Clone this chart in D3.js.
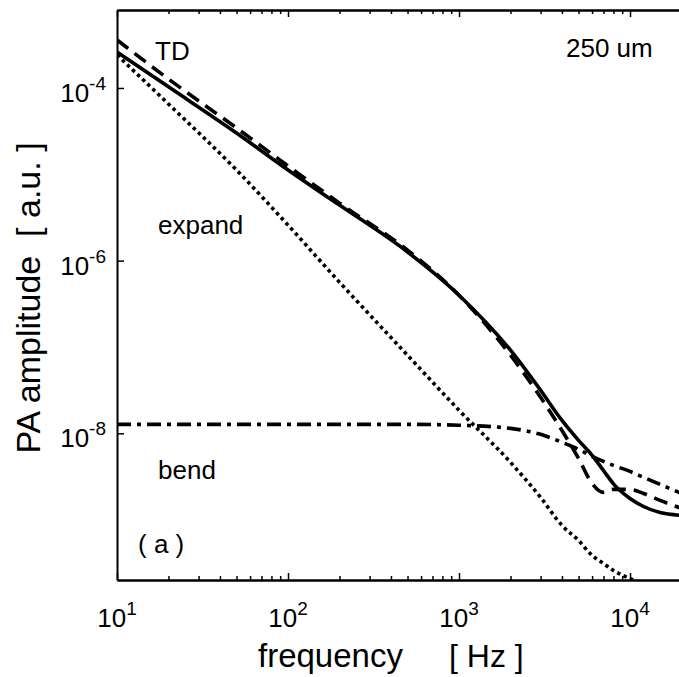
<!DOCTYPE html>
<html>
<head>
<meta charset="utf-8">
<script src="https://cdn.jsdelivr.net/npm/d3@7"></script>
<style>
  body { margin: 0; background: #fff; }
  text { font-family: "Liberation Sans", Arial, sans-serif; fill: #000; }
</style>
</head>
<body>
<div id="chart"></div>
<script>
    // data
    var freq   = [10, 20, 50, 100, 200, 500, 1000, 2000, 3000, 4000, 5000, 6000, 7000, 8000, 10000, 12000, 15000, 20000];
    var total  = [2.61e-4, 1.03e-4, 3.01e-5, 1.12e-5, 4.40e-6, 1.26e-6, 3.98e-7, 9.17e-8, 3.15e-8, 1.41e-8, 8.29e-9, 5.56e-9, 3.70e-9, 2.60e-9, 1.76e-9, 1.42e-9, 1.21e-9, 1.12e-9];
    var td     = [3.60e-4, 1.27e-4, 3.44e-5, 1.25e-5, 4.64e-6, 1.32e-6, 3.98e-7, 8.02e-8, 2.61e-8, 1.08e-8, 5.13e-9, 2.63e-9, 2.07e-9, 2.24e-9, 2.24e-9, 2.01e-9, 1.67e-9, 1.35e-9];
    var bend   = [1.27e-8, 1.27e-8, 1.27e-8, 1.27e-8, 1.27e-8, 1.27e-8, 1.24e-8, 1.14e-8, 9.73e-9, 7.86e-9, 6.52e-9, 5.41e-9, 4.73e-9, 4.25e-9, 3.62e-9, 3.09e-9, 2.56e-9, 2.01e-9];
    var expand = [2.41e-4, 6.52e-5, 1.12e-5, 2.58e-6, 5.63e-7, 8.02e-8, 1.85e-8, 4.61e-9, 1.81e-9, 8.57e-10, 5.74e-10, 3.85e-10, 3.11e-10, 2.58e-10, 2.08e-10, 1.80e-10, 1.60e-10, 1.40e-10];

    var xTicks = [10, 100, 1000, 10000];
    var xLabels = ["1", "2", "3", "4"];
    var yTicks = [1e-4, 1e-6, 1e-8];
    var yLabels = ["-4", "-6", "-8"];

    // dimensions & margins
    var margin = { top: 10, left: 117 },
        width = 564.5,
        height = 570;

    var svg = d3.select("#chart")
        .append("svg")
        .attr("width", 679)
        .attr("height", 677)
        .append("g")
        .attr("transform", "translate(" + margin.left + "," + margin.top + ")");

    var x = d3.scaleLog().domain([10, 20000]).range([0, width]);
    var y = d3.scaleLog().domain([2e-10, 8e-4]).range([height, 0]);

    // minor ticks on x
    var xMinor = [];
    for (var e = 1; e <= 4; e++) {
        for (var m = 2; m <= 9; m++) {
            var v = m * Math.pow(10, e);
            if (v <= 20000) xMinor.push(v);
        }
    }

    svg.append("defs").append("clipPath").attr("id", "clip")
        .append("rect").attr("width", width).attr("height", height);

    // curves
    var series = [
        { vals: total, dash: null },
        { vals: td, dash: "14,8" },
        { vals: bend, dash: "14,6,4,6" },
        { vals: expand, dash: "3.5,3.5" }
    ];

    var line = d3.line()
        .x(function (d) { return x(d[0]); })
        .y(function (d) { return y(d[1]); })
        .curve(d3.curveMonotoneX);

    svg.append("g").attr("clip-path", "url(#clip)")
        .selectAll("path")
        .data(series)
        .enter()
        .append("path")
        .attr("d", function (s) { return line(freq.map(function (f, i) { return [f, s.vals[i]]; })); })
        .attr("fill", "none")
        .attr("stroke", "#000")
        .attr("stroke-width", 3.6)
        .attr("stroke-dasharray", function (s) { return s.dash; });

    // axes (ticks pointing inward)
    function styleAxis(g) {
        g.selectAll("path").attr("stroke", "#000").attr("stroke-width", 2);
        g.selectAll("line").attr("stroke", "#000").attr("stroke-width", 1.5);
        g.selectAll("text").remove();
    }

    svg.append("g").attr("transform", "translate(0," + height + ")")
        .call(d3.axisBottom(x).tickValues(xTicks).tickSizeInner(-7).tickSizeOuter(0)).call(styleAxis);
    svg.append("g").attr("transform", "translate(0," + height + ")")
        .call(d3.axisBottom(x).tickValues(xMinor).tickSizeInner(-4).tickSizeOuter(0)).call(styleAxis);
    svg.append("g")
        .call(d3.axisTop(x).tickValues(xTicks).tickSizeInner(-7).tickSizeOuter(0)).call(styleAxis);
    svg.append("g")
        .call(d3.axisTop(x).tickValues(xMinor).tickSizeInner(-4).tickSizeOuter(0)).call(styleAxis);
    svg.append("g")
        .call(d3.axisLeft(y).tickValues(yTicks).tickSizeInner(-7).tickSizeOuter(0)).call(styleAxis);

    // tick labels with superscripts
    xTicks.forEach(function (t, i) {
        var txt = svg.append("text")
            .attr("x", x(t))
            .attr("y", height + 47)
            .attr("text-anchor", "middle")
            .style("font-size", "26px");
        txt.append("tspan").text("10");
        txt.append("tspan").attr("dy", -12).style("font-size", "19px").text(xLabels[i]);
    });

    yTicks.forEach(function (t, i) {
        var txt = svg.append("text")
            .attr("x", -11)
            .attr("y", y(t) + 14)
            .attr("text-anchor", "end")
            .style("font-size", "26px");
        txt.append("tspan").text("10");
        txt.append("tspan").attr("dy", -12).style("font-size", "19px").text(yLabels[i]);
    });

    // axis labels
    svg.append("text")
        .attr("x", 141)
        .attr("y", height + 87)
        .style("font-size", "33px")
        .text("frequency");
    svg.append("text")
        .attr("x", 332)
        .attr("y", height + 87)
        .style("font-size", "32px")
        .attr("xml:space", "preserve")
        .text("[ Hz ]");

    svg.append("text")
        .attr("transform", "translate(-77,288) rotate(-90)")
        .attr("text-anchor", "middle")
        .style("font-size", "34px")
        .attr("xml:space", "preserve")
        .text("PA amplitude  [ a.u. ]");

    // annotations
    var notes = [
        { t: "TD", x: 38, y: 50 },
        { t: "250 um", x: 449, y: 47 },
        { t: "expand", x: 41, y: 224 },
        { t: "bend", x: 41, y: 469 },
        { t: "( a )", x: 21, y: 543 }
    ];
    svg.selectAll(".note")
        .data(notes)
        .enter()
        .append("text")
        .attr("class", "note")
        .attr("x", function (d) { return d.x; })
        .attr("y", function (d) { return d.y; })
        .attr("xml:space", "preserve")
        .style("font-size", "26px")
        .text(function (d) { return d.t; });
</script>
</body>
</html>
